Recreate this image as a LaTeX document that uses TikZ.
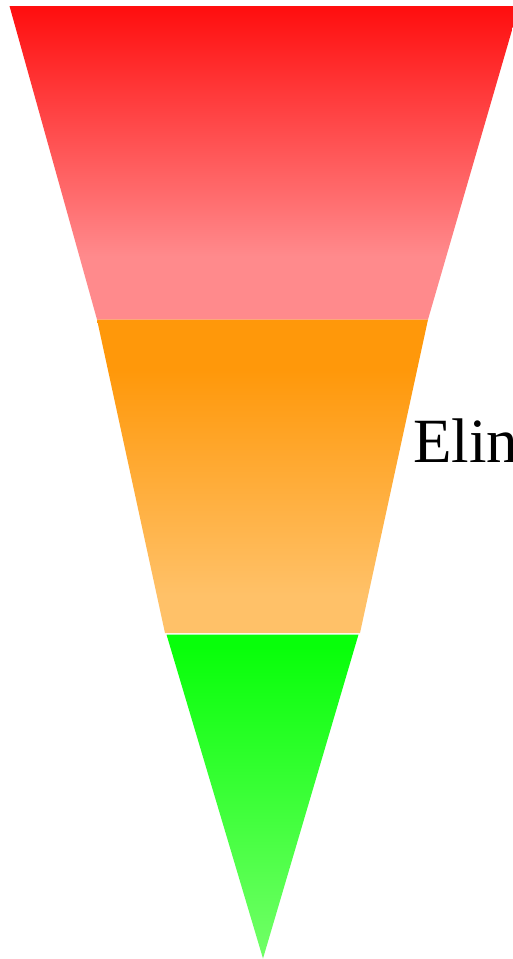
\documentclass[tikz,border=0pt]{standalone}
\usepackage{fontspec}
\setmainfont{Liberation Serif}
\definecolor{redtop}{RGB}{255,14,14}
\definecolor{redbot}{RGB}{255,138,140}
\definecolor{orgtop}{RGB}{255,152,10}
\definecolor{orgbot}{RGB}{255,193,104}
\definecolor{grntop}{RGB}{8,255,10}
\definecolor{grnbot}{RGB}{110,255,100}
\pgfdeclareverticalshading{redfun}{100bp}{color(0bp)=(redbot); color(35bp)=(redbot); color(75bp)=(redtop); color(100bp)=(redtop)}
\pgfdeclareverticalshading{orgfun}{100bp}{color(0bp)=(orgbot); color(31bp)=(orgbot); color(67bp)=(orgtop); color(100bp)=(orgtop)}
\pgfdeclareverticalshading{grnfun}{100bp}{color(0bp)=(grnbot); color(27bp)=(grnbot); color(73bp)=(grntop); color(100bp)=(grntop)}
\begin{document}
\begin{tikzpicture}[x=1pt,y=-1pt]
\useasboundingbox (0,0) rectangle (513,959);
\fill[white] (0,0) rectangle (513,959);
% top band
\coordinate (r1) at (9.5,6);
\coordinate (r2) at (519,6);
\coordinate (r3) at (428,319.5);
\coordinate (r4) at (97,319.5);
\shade[shading=redfun] (r1) -- (r2) -- (r3) -- (r4) -- cycle;
% middle band
\coordinate (o1) at (97,319.5);
\coordinate (o2) at (428,319.5);
\coordinate (o3) at (360,633);
\coordinate (o4) at (165,633);
\shade[shading=orgfun] (o1) -- (o2) -- (o3) -- (o4) -- cycle;
% bottom band
\coordinate (g1) at (166.5,634.5);
\coordinate (g2) at (358.5,634.5);
\coordinate (g3) at (263,958.5);
\shade[shading=grnfun] (g1) -- (g2) -- (g3) -- cycle;
\node[anchor=base west, inner sep=0pt, font=\fontsize{63}{70}\selectfont] (lbl) at (413,462) {Elin};
\end{tikzpicture}
\end{document}
